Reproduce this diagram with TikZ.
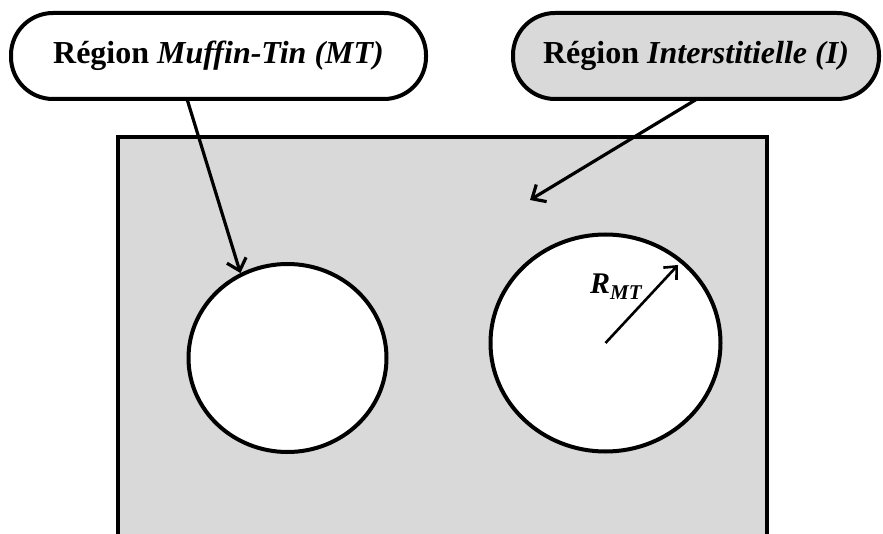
\documentclass[tikz,border=0pt]{standalone}
\usepackage{fontspec}
\setmainfont{Liberation Serif}
\usetikzlibrary{arrows.meta,shapes.geometric}

\definecolor{zonegray}{HTML}{D9D9D9}

\tikzset{
  labelbox/.style={draw, line width=4pt, rounded corners=42pt, inner sep=0pt,
    minimum height=86pt, font=\fontsize{32}{38}\selectfont\bfseries},
  sphere/.style={draw, line width=4pt, fill=white, ellipse, inner sep=0pt},
  pointer/.style={line width=3.2pt, -{Straight Barb[length=11pt,width=20pt,line width=3.2pt]}},
  radius/.style={line width=2.6pt, -{Straight Barb[length=10pt,width=18pt,line width=2.6pt]}}
}

\begin{document}
\begin{tikzpicture}[x=1pt, y=1pt]
  \useasboundingbox (0,0) rectangle (883,533);

  % interstitial zone: open at the bottom
  \fill[zonegray] (118,-5) rectangle (767,396);
  \draw[line width=4pt] (118,-5) -- (118,396) -- (767,396) -- (767,-5);

  % muffin-tin spheres
  \node[sphere, minimum width=198pt, minimum height=188pt] (mtleft) at (287.5,175) {};
  \node[sphere, minimum width=230pt, minimum height=217pt] (mtright) at (605.5,190) {};

  % region labels
  \node[labelbox, minimum width=415pt] (lblmt) at (218.5,477)
    {Région \textit{Muffin-Tin (MT)}};
  \node[labelbox, fill=zonegray, minimum width=366pt] (lbli) at (696,477)
    {Région \textit{Interstitielle (I)}};

  % pointers from the labels
  \coordinate (mtfrom) at (187,434);
  \coordinate (ifrom) at (697,434);
  \coordinate (izone) at (530,333);
  \draw[pointer] (mtfrom) -- (mtleft.119);
  \draw[pointer] (ifrom) -- (izone);

  % sphere radius, drawn from the centre
  \coordinate (rto) at (678,268);
  \draw[radius] (mtright.center) -- (rto);
  \node[anchor=base west, inner sep=0pt, font=\fontsize{30}{34}\selectfont\bfseries\itshape]
    (rmt) at (590,239) {R\textsubscript{MT}};
\end{tikzpicture}
\end{document}
